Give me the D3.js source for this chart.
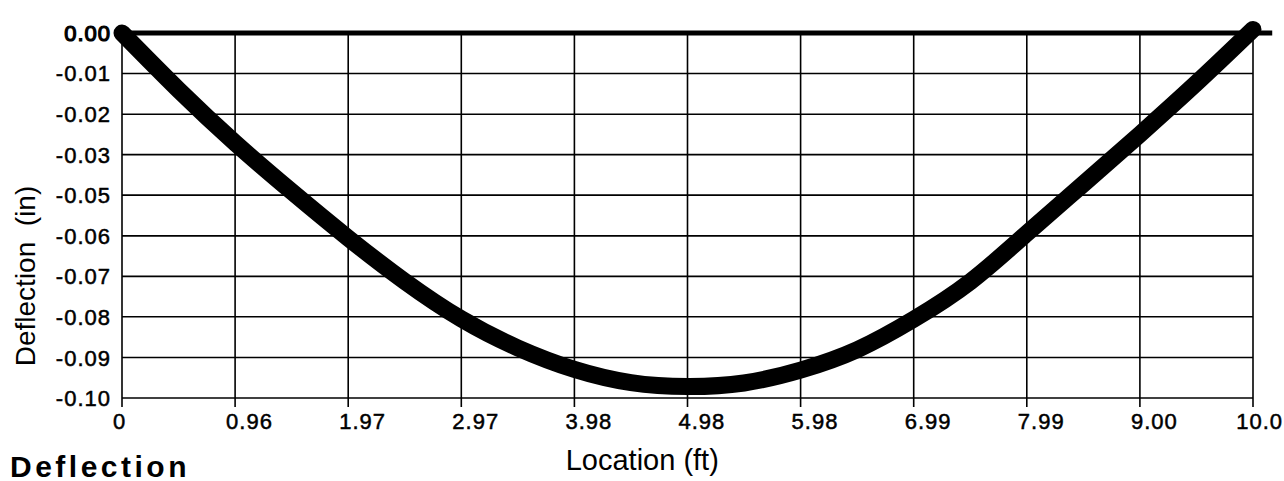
<!DOCTYPE html>
<html>
<head>
<meta charset="utf-8">
<script src="https://cdn.jsdelivr.net/npm/d3@7"></script>
<style>
    body { margin: 0; background: #fff; }
    text { font-family: "Liberation Sans", Arial, sans-serif; fill: #000; }
</style>
</head>
<body>
<div id="deflection_svg_container"></div>
<script>
// beam deflection (ft, in)
const locations = [0, 0.5, 1, 1.5, 2, 2.5, 3, 3.5, 4, 4.5, 5, 5.5, 6, 6.5, 7, 7.5, 8, 8.5, 9, 9.5, 10];
const deflections = [0, -0.0159, -0.0307, -0.0443, -0.0573, -0.0694, -0.0799, -0.0880, -0.0940, -0.0977, -0.0988,
    -0.0978, -0.0942, -0.0885, -0.0800, -0.0695, -0.0560, -0.0422, -0.0283, -0.0140, 0.001];

// undeformed beam line
const beamLocations = [-0.05, 10.17];

const xTickValues = [0, 1, 2, 3, 4, 5, 6, 7, 8, 9, 10];
const xTickLabels = ["0", "0.96", "1.97", "2.97", "3.98", "4.98", "5.98", "6.99", "7.99", "9.00", "10.0"];
const yTickValues = [0, -0.0113, -0.0227, -0.034, -0.0453, -0.0567, -0.068, -0.0793, -0.0907, -0.102];
const yTickLabels = ["0.00", "-0.01", "-0.02", "-0.03", "-0.05", "-0.06", "-0.07", "-0.08", "-0.09", "-0.10"];

const svg_margin = { top: 33, right: 31, bottom: 83, left: 122 },
    svg_width = 1284 - svg_margin.left - svg_margin.right,
    svg_height = 481 - svg_margin.top - svg_margin.bottom;

const root = d3.select("#deflection_svg_container")
    .append("svg")
    .attr("width", 1284)
    .attr("height", 481);

// the bottom title is cut off in the original
root.append("clipPath")
    .attr("id", "cut")
    .append("rect")
    .attr("x", 0)
    .attr("y", 0)
    .attr("width", 1284)
    .attr("height", 477);

const svg = root.append("g")
    .attr("transform", `translate(${svg_margin.left}, ${svg_margin.top})`);

const x = d3.scaleLinear()
    .domain([0, 10])
    .range([0, svg_width]);

const y = d3.scaleLinear()
    .domain([-0.102, 0])
    .range([svg_height, 0]);

// grid, vertical lines run a bit past the bottom as ticks
svg.append("g")
    .selectAll("line")
    .data(xTickValues)
    .enter()
    .append("line")
    .attr("x1", d => x(d))
    .attr("x2", d => x(d))
    .attr("y1", 0)
    .attr("y2", svg_height + 9)
    .style("stroke", "#000")
    .style("stroke-width", 1.6);

svg.append("g")
    .selectAll("line")
    .data(yTickValues)
    .enter()
    .append("line")
    .attr("x1", 0)
    .attr("x2", svg_width)
    .attr("y1", d => y(d))
    .attr("y2", d => y(d))
    .style("stroke", "#000")
    .style("stroke-width", 1.6);

// tick labels
svg.append("g")
    .selectAll("text")
    .data(xTickValues)
    .enter()
    .append("text")
    .attr("x", d => x(d) - 9)
    .attr("y", svg_height + 31)
    .style("font-size", "22px")
    .style("letter-spacing", "1px")
    .style("stroke", "#000")
    .style("stroke-width", 0.5)
    .text((d, i) => xTickLabels[i])
    .each(function () {
        // keep the last label inside the window
        const bb = this.getBBox();
        const overflow = svg_margin.left + bb.x + bb.width - 1283;
        if (overflow > 0) d3.select(this).attr("x", bb.x - overflow);
    });

svg.append("g")
    .selectAll("text")
    .data(yTickValues)
    .enter()
    .append("text")
    .attr("x", -11)
    .attr("y", d => y(d) + 8)
    .attr("text-anchor", "end")
    .style("font-size", "22px")
    .style("letter-spacing", "1px")
    .style("stroke", "#000")
    .style("stroke-width", (d, i) => i === 0 ? 1.2 : 0.5)
    .text((d, i) => yTickLabels[i]);

// beam line at zero
svg.append("path")
    .datum(beamLocations)
    .attr("d", d3.line().x(d => x(d)).y(() => y(0)))
    .style("fill", "none")
    .style("stroke", "#000")
    .style("stroke-width", 5);

// deflected shape
svg.append("path")
    .datum(locations)
    .attr("d", d3.line()
        .x(d => x(d))
        .y((d, i) => y(deflections[i]))
        .curve(d3.curveNatural))
    .style("fill", "none")
    .style("stroke", "#000")
    .style("stroke-width", 17)
    .style("stroke-linecap", "round")
    .style("stroke-linejoin", "round");

// axis titles
svg.append("text")
    .attr("x", x(4.6))
    .attr("y", svg_height + 72)
    .attr("text-anchor", "middle")
    .style("font-size", "29px")
    .text("Location (ft)");

svg.append("text")
    .attr("transform", `translate(${-87}, ${243}) rotate(-90)`)
    .attr("text-anchor", "middle")
    .style("font-size", "28px")
    .style("white-space", "pre")
    .text("Deflection  (in)");

root.append("text")
    .attr("clip-path", "url(#cut)")
    .attr("x", 10)
    .attr("y", 477)
    .style("font-size", "30px")
    .style("font-weight", "700")
    .style("letter-spacing", "3.5px")
    .text("Deflection");
</script>
</body>
</html>
